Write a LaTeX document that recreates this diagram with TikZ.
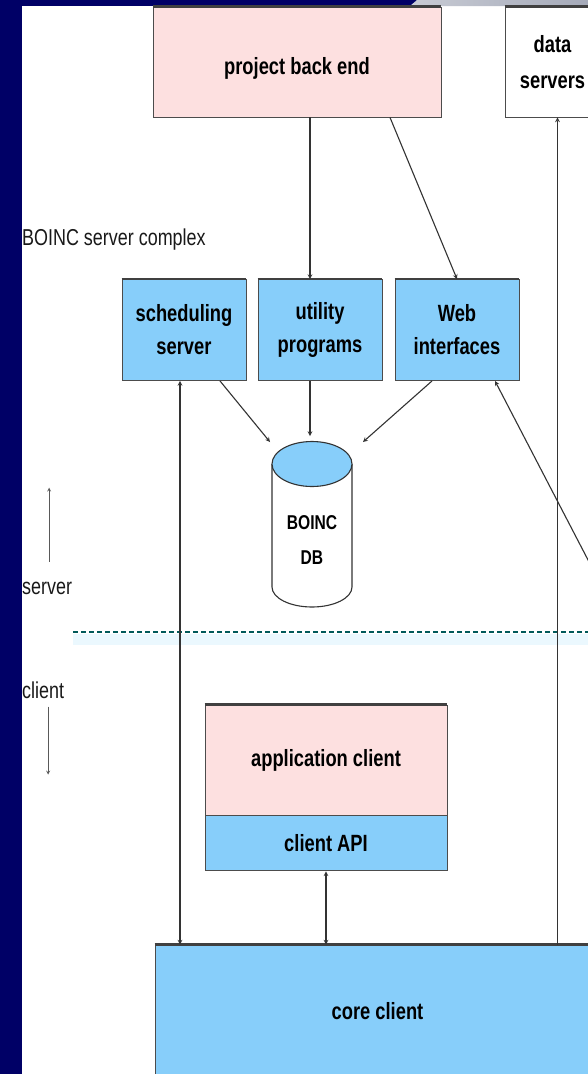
\documentclass[tikz,border=0pt]{standalone}
\usepackage{fontspec}
\setmainfont{Liberation Sans}
\usepackage{graphicx}
\usetikzlibrary{positioning}

\definecolor{slidenavy}{RGB}{0,0,102}
\definecolor{boxblue}{RGB}{135,206,250}
\definecolor{boxpink}{RGB}{253,224,224}
\definecolor{topgrayA}{RGB}{200,203,212}
\definecolor{topgrayB}{RGB}{165,170,185}

\newcommand{\nar}[1]{\scalebox{0.78}[1]{#1}}
\newcommand{\boxfont}{\bfseries\fontsize{23.5}{33}\selectfont}
\newcommand{\sidefont}{\fontsize{23}{28}\selectfont}
\newcommand{\dbfont}{\bfseries\fontsize{20}{35}\selectfont}

\begin{document}
\begin{tikzpicture}[x=1pt, y=-1pt, >=stealth,
  box/.style={draw=black!70, line width=0.9pt, align=center, font=\boxfont, inner sep=0pt, text=black},
  bluebox/.style={box, fill=boxblue, minimum width=124pt, minimum height=101pt},
  pinkbox/.style={box, fill=boxpink},
  sidelbl/.style={font=\sidefont, inner sep=0pt, text=black!90},
  conn/.style={draw=black!80, line width=1.1pt},
  updown/.style={draw=black!65, line width=0.8pt},
  divider/.style={draw=teal!70!black, dash pattern=on 5pt off 3pt, line width=1.3pt},
  topedge/.style={draw=black!75, line width=2.5pt}]
  % slide frame
  \useasboundingbox (0,0) rectangle (588,1074);
  \clip (0,0) rectangle (588,1074);
  \fill[slidenavy] (0,0) rectangle (588,1074);
  \fill[white] (22,6) rectangle (588,1074);
  \shade[left color=topgrayA, right color=topgrayB] (410,6) -- (417,0) -- (588,0) -- (588,6) -- cycle;

  % server side
  \node[pinkbox, minimum width=288pt, minimum height=110pt] (pbe) at (297,62) {\rule{0pt}{30pt}\nar{project back end}};
  \node[box, fill=white, minimum width=95pt, minimum height=110pt] (ds) at (552.5,62) {\nar{data}\\[3pt]\nar{servers}};
  \node[sidelbl, anchor=west] (bsc) at (22,240) {\nar{BOINC server complex}};
  \node[bluebox] (sched) at (184,330) {\nar{scheduling}\\\nar{server}};
  \node[bluebox] (util) at (320,330) {\nar{utility}\\\nar{programs}};
  \node[bluebox] (web) at (457,330) {\nar{Web}\\\nar{interfaces}};

  % database
  \draw[conn, fill=white] (272,464) -- (272,587) arc[start angle=180, end angle=0, x radius=40, y radius=20] -- (352,464);
  \draw[conn, fill=boxblue] (312,464) ellipse[x radius=40, y radius=22.5];
  \node[font=\dbfont, align=center, text=black] (dbtxt) at (312,540) {\nar{BOINC}\\\nar{DB}};
  \coordinate (dbl) at (270,442);
  \coordinate (dbt) at (310,436);
  \coordinate (dbr) at (363,442);

  % server / client divide
  \fill[cyan!8] (73,634) rectangle (588,645);
  \draw[divider] (73,632) -- (588,632);
  \node[sidelbl, anchor=west] (srv) at (22,588) {\nar{server}};
  \node[sidelbl, anchor=west] (cli) at (22,690) {\nar{client}};
  \draw[updown,->] ([xshift=2pt,yshift=20pt]srv.north) -- ++(0,-74);
  \draw[updown,->] ([xshift=5pt,yshift=-8pt]cli.south) -- ++(0,68);

  % client side
  \node[pinkbox, minimum width=242pt, minimum height=110pt] (app) at (326,760) {\nar{application client}};
  \node[box, fill=boxblue, minimum width=242pt, minimum height=55pt, below=0pt of app] (api) {\nar{client API}};
  \node[box, fill=boxblue, minimum width=445pt, minimum height=132pt] (core) at (377.5,1011) {\nar{core client}};

  \foreach \n in {pbe,ds,sched,util,web,app,core}
    \draw[topedge] (\n.north west) -- (\n.north east);

  % connectors
  \coordinate (brw) at (600,583);
  \draw[conn,->] ([xshift=-10pt]util.north |- pbe.south) -- ([xshift=-10pt]util.north);
  \draw[conn,->] ([xshift=93pt]pbe.south) -- (web.north);
  \draw[conn,->] ([xshift=36pt]sched.south) -- (dbl);
  \draw[conn,->] ([xshift=-10pt]util.south) -- (dbt);
  \draw[conn,->] ([xshift=-25pt]web.south) -- (dbr);
  \draw[conn,->] (brw) -- ([xshift=38pt]web.south);
  \draw[conn,<->] ([xshift=-4pt]sched.south) -- ([xshift=-4pt]sched.south |- core.north);
  \draw[conn,<->] (api.south) -- (api.south |- core.north);
  \draw[conn,->] ([xshift=5pt]ds.south |- core.north) -- ([xshift=5pt]ds.south);
\end{tikzpicture}
\end{document}
